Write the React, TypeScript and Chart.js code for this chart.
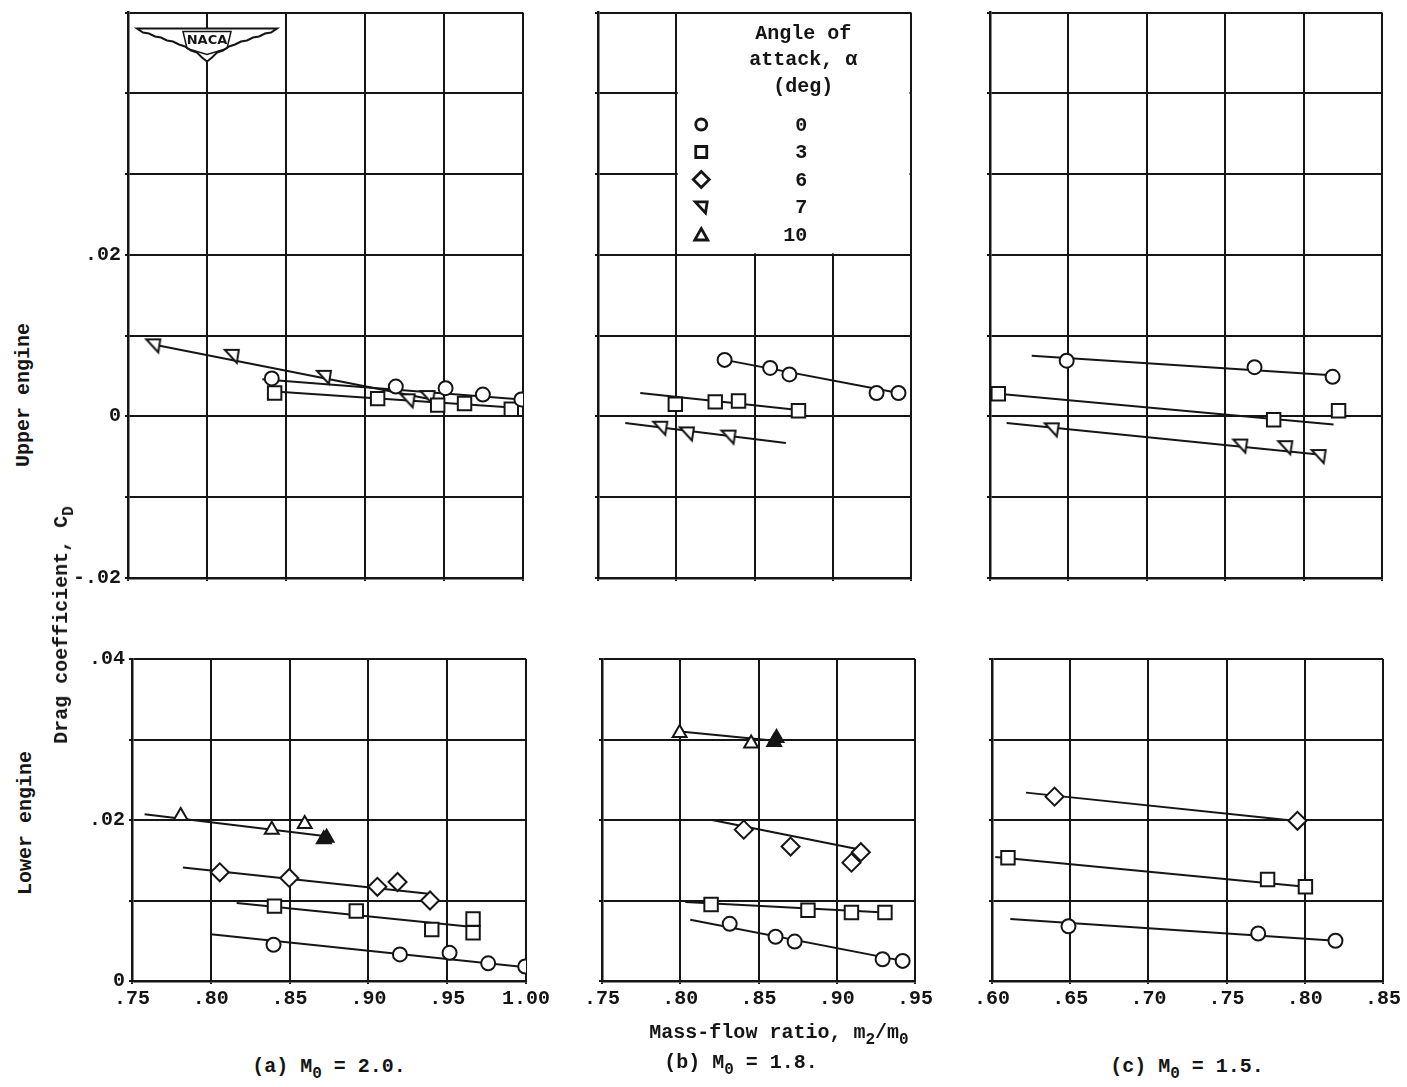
import React, { useEffect, useRef } from 'react';
import { Chart, registerables } from 'chart.js';

Chart.register(...registerables);

const FONT_FAMILY = '"Liberation Mono", "DejaVu Sans Mono", monospace';
const INK = '#151515';

// ---------- legend ----------
const angles = [0, 3, 6, 7, 10];
const legendTitle = ['Angle of', 'attack, \u03b1', '(deg)'];

// ---------- tick labels ----------
const upperYTickValues = [0.02, 0, -0.02];
const upperYTickLabels = ['.02', '0', '-.02'];
const lowerYTickValues = [0.04, 0.02, 0];
const lowerYTickLabels = ['.04', '.02', '0'];
const xTickLabelsA = ['.75', '.80', '.85', '.90', '.95', '1.00'];
const xTickLabelsB = ['.75', '.80', '.85', '.90', '.95'];
const xTickLabelsC = ['.60', '.65', '.70', '.75', '.80', '.85'];

// ---------- (a) M0 = 2.0, upper engine ----------
const aUpX0 = [0.841, 0.9195, 0.951, 0.9746, 0.999];
const aUpY0 = [0.0047, 0.0037, 0.0035, 0.0027, 0.0021];
const aUpX3 = [0.8428, 0.908, 0.946, 0.963, 0.9926];
const aUpY3 = [0.0029, 0.0022, 0.0014, 0.0016, 0.0009];
const aUpX7 = [0.766, 0.8157, 0.874, 0.927, 0.9396];
const aUpY7 = [0.0088, 0.0075, 0.0049, 0.002, 0.0024];
const aUpFairX0 = [0.835, 0.999];
const aUpFairY0 = [0.0046, 0.0021];
const aUpFairX3 = [0.843, 0.993];
const aUpFairY3 = [0.0031, 0.0011];
const aUpFairX7 = [0.766, 0.94];
const aUpFairY7 = [0.0089, 0.0022];

// ---------- (a) M0 = 2.0, lower engine ----------
const aLoX0 = [0.8398, 0.92, 0.9515, 0.976, 0.9995];
const aLoY0 = [0.0045, 0.0033, 0.0035, 0.0022, 0.0018];
const aLoX3 = [0.8404, 0.8923, 0.9402, 0.9664, 0.9664];
const aLoY3 = [0.0093, 0.0087, 0.0064, 0.0077, 0.006];
const aLoX6 = [0.8057, 0.8498, 0.9057, 0.9185, 0.9391];
const aLoY6 = [0.0135, 0.0128, 0.0117, 0.0123, 0.01];
const aLoX10 = [0.7809, 0.8387, 0.8596];
const aLoY10 = [0.0205, 0.0188, 0.0195];
const aLoX10s = [0.8717, 0.8735];
const aLoY10s = [0.0176, 0.0178];
const aLoFairX0 = [0.8, 1.0];
const aLoFairY0 = [0.0058, 0.0017];
const aLoFairX3 = [0.8164, 0.9664];
const aLoFairY3 = [0.0097, 0.0067];
const aLoFairX6 = [0.7823, 0.9398];
const aLoFairY6 = [0.0141, 0.0108];
const aLoFairX10 = [0.758, 0.872];
const aLoFairY10 = [0.0207, 0.018];

// ---------- (b) M0 = 1.8, upper engine ----------
const bUpX0 = [0.8309, 0.86, 0.8723, 0.928, 0.942];
const bUpY0 = [0.007, 0.006, 0.0052, 0.0029, 0.0029];
const bUpX3 = [0.7994, 0.8249, 0.8398, 0.8781];
const bUpY3 = [0.0015, 0.0018, 0.0019, 0.0007];
const bUpX7 = [0.7898, 0.8068, 0.8334];
const bUpY7 = [-0.0014, -0.0021, -0.0025];
const bUpFairX0 = [0.8309, 0.942];
const bUpFairY0 = [0.007, 0.0029];
const bUpFairX3 = [0.777, 0.878];
const bUpFairY3 = [0.0029, 0.0008];
const bUpFairX7 = [0.7674, 0.87];
const bUpFairY7 = [-0.0008, -0.0033];

// ---------- (b) M0 = 1.8, lower engine ----------
const bLoX0 = [0.8316, 0.8609, 0.8731, 0.9293, 0.9421];
const bLoY0 = [0.0071, 0.0055, 0.0049, 0.0027, 0.0025];
const bLoX3 = [0.8197, 0.8816, 0.9094, 0.9308];
const bLoY3 = [0.0095, 0.0088, 0.0085, 0.0085];
const bLoX6 = [0.8406, 0.8705, 0.9154, 0.9094];
const bLoY6 = [0.0188, 0.0167, 0.016, 0.0147];
const bLoX10 = [0.7996, 0.8453];
const bLoY10 = [0.0308, 0.0295];
const bLoX10s = [0.8615, 0.86];
const bLoY10s = [0.0302, 0.0297];
const bLoFairX0 = [0.8064, 0.9421];
const bLoFairY0 = [0.0076, 0.0025];
const bLoFairX3 = [0.8032, 0.9308];
const bLoFairY3 = [0.0098, 0.0085];
const bLoFairX6 = [0.8203, 0.9154];
const bLoFairY6 = [0.02, 0.0163];
const bLoFairX10 = [0.8, 0.862];
const bLoFairY10 = [0.031, 0.0298];

// ---------- (c) M0 = 1.5, upper engine ----------
const cUpX0 = [0.6489, 0.7687, 0.8185];
const cUpY0 = [0.0069, 0.0061, 0.0049];
const cUpX3 = [0.6053, 0.7809, 0.8223];
const cUpY3 = [0.0028, -0.0004, 0.0007];
const cUpX7 = [0.6394, 0.7596, 0.7883, 0.8096];
const cUpY7 = [-0.0016, -0.0036, -0.0038, -0.0049];
const cUpFairX0 = [0.6266, 0.818];
const cUpFairY0 = [0.0075, 0.0051];
const cUpFairX3 = [0.6, 0.8191];
const cUpFairY3 = [0.0029, -0.001];
const cUpFairX7 = [0.6106, 0.8096];
const cUpFairY7 = [-0.0008, -0.0047];

// ---------- (c) M0 = 1.5, lower engine ----------
const cLoX0 = [0.6489, 0.7702, 0.8196];
const cLoY0 = [0.0068, 0.0059, 0.005];
const cLoX3 = [0.6102, 0.7762, 0.8004];
const cLoY3 = [0.0153, 0.0126, 0.0117];
const cLoX6 = [0.64, 0.7953];
const cLoY6 = [0.0229, 0.0199];
const cLoFairX0 = [0.6117, 0.8196];
const cLoFairY0 = [0.0077, 0.005];
const cLoFairX3 = [0.6021, 0.8004];
const cLoFairY3 = [0.0154, 0.0117];
const cLoFairX6 = [0.6217, 0.7979];
const cLoFairY6 = [0.0234, 0.0198];

type Series = { angle: number; x: number[]; y: number[]; solid?: boolean };
type Fair = { x: number[]; y: number[] };
type PanelCfg = {
  id: string;
  left: number;
  top: number;
  right: number;
  bottom: number;
  xMin: number;
  xMax: number;
  yMin: number;
  yMax: number;
  xLabels: string[] | null;
  yTickValues: number[] | null;
  yTickLabels: string[] | null;
  series: Series[];
  fairs: Fair[];
  legend?: boolean;
  logo?: boolean;
};

const panels: PanelCfg[] = [
  {
    id: 'aU', left: 128, right: 523, top: 11, bottom: 578,
    xMin: 0.75, xMax: 1.0, yMin: -0.02, yMax: 0.05,
    xLabels: null, yTickValues: upperYTickValues, yTickLabels: upperYTickLabels,
    series: [
      { angle: 0, x: aUpX0, y: aUpY0 },
      { angle: 3, x: aUpX3, y: aUpY3 },
      { angle: 7, x: aUpX7, y: aUpY7 },
    ],
    fairs: [
      { x: aUpFairX0, y: aUpFairY0 },
      { x: aUpFairX3, y: aUpFairY3 },
      { x: aUpFairX7, y: aUpFairY7 },
    ],
    logo: true,
  },
  {
    id: 'aL', left: 132, right: 526, top: 659, bottom: 981,
    xMin: 0.75, xMax: 1.0, yMin: 0, yMax: 0.04,
    xLabels: xTickLabelsA, yTickValues: lowerYTickValues, yTickLabels: lowerYTickLabels,
    series: [
      { angle: 0, x: aLoX0, y: aLoY0 },
      { angle: 3, x: aLoX3, y: aLoY3 },
      { angle: 6, x: aLoX6, y: aLoY6 },
      { angle: 10, x: aLoX10, y: aLoY10 },
      { angle: 10, x: aLoX10s, y: aLoY10s, solid: true },
    ],
    fairs: [
      { x: aLoFairX0, y: aLoFairY0 },
      { x: aLoFairX3, y: aLoFairY3 },
      { x: aLoFairX6, y: aLoFairY6 },
      { x: aLoFairX10, y: aLoFairY10 },
    ],
  },
  {
    id: 'bU', left: 598, right: 911, top: 11, bottom: 578,
    xMin: 0.75, xMax: 0.95, yMin: -0.02, yMax: 0.05,
    xLabels: null, yTickValues: null, yTickLabels: null,
    series: [
      { angle: 0, x: bUpX0, y: bUpY0 },
      { angle: 3, x: bUpX3, y: bUpY3 },
      { angle: 7, x: bUpX7, y: bUpY7 },
    ],
    fairs: [
      { x: bUpFairX0, y: bUpFairY0 },
      { x: bUpFairX3, y: bUpFairY3 },
      { x: bUpFairX7, y: bUpFairY7 },
    ],
    legend: true,
  },
  {
    id: 'bL', left: 602, right: 915, top: 659, bottom: 981,
    xMin: 0.75, xMax: 0.95, yMin: 0, yMax: 0.04,
    xLabels: xTickLabelsB, yTickValues: null, yTickLabels: null,
    series: [
      { angle: 0, x: bLoX0, y: bLoY0 },
      { angle: 3, x: bLoX3, y: bLoY3 },
      { angle: 6, x: bLoX6, y: bLoY6 },
      { angle: 10, x: bLoX10, y: bLoY10 },
      { angle: 10, x: bLoX10s, y: bLoY10s, solid: true },
    ],
    fairs: [
      { x: bLoFairX0, y: bLoFairY0 },
      { x: bLoFairX3, y: bLoFairY3 },
      { x: bLoFairX6, y: bLoFairY6 },
      { x: bLoFairX10, y: bLoFairY10 },
    ],
  },
  {
    id: 'cU', left: 990, right: 1382, top: 11, bottom: 578,
    xMin: 0.6, xMax: 0.85, yMin: -0.02, yMax: 0.05,
    xLabels: null, yTickValues: null, yTickLabels: null,
    series: [
      { angle: 0, x: cUpX0, y: cUpY0 },
      { angle: 3, x: cUpX3, y: cUpY3 },
      { angle: 7, x: cUpX7, y: cUpY7 },
    ],
    fairs: [
      { x: cUpFairX0, y: cUpFairY0 },
      { x: cUpFairX3, y: cUpFairY3 },
      { x: cUpFairX7, y: cUpFairY7 },
    ],
  },
  {
    id: 'cL', left: 992, right: 1383, top: 659, bottom: 981,
    xMin: 0.6, xMax: 0.85, yMin: 0, yMax: 0.04,
    xLabels: xTickLabelsC, yTickValues: null, yTickLabels: null,
    series: [
      { angle: 0, x: cLoX0, y: cLoY0 },
      { angle: 3, x: cLoX3, y: cLoY3 },
      { angle: 6, x: cLoX6, y: cLoY6 },
    ],
    fairs: [
      { x: cLoFairX0, y: cLoFairY0 },
      { x: cLoFairX3, y: cLoFairY3 },
      { x: cLoFairX6, y: cLoFairY6 },
    ],
  },
];

const POINT_STYLE: Record<number, string> = { 0: 'circle', 3: 'rect', 6: 'rectRot', 10: 'triangle' };
const POINT_RADIUS: Record<number, number> = { 0: 7, 3: 9.5, 6: 9, 7: 8, 10: 8 };

function pathSym7(g: CanvasRenderingContext2D, x: number, y: number, k: number) {
  g.beginPath();
  g.moveTo(x - 7 * k, y - 6 * k);
  g.lineTo(x + 7 * k, y - 6 * k);
  g.lineTo(x + 5 * k, y + 7 * k);
  g.closePath();
}

function makeSym7(): HTMLCanvasElement {
  const c = document.createElement('canvas');
  c.width = 22;
  c.height = 22;
  const g = c.getContext('2d')!;
  g.lineWidth = 2;
  g.strokeStyle = INK;
  g.fillStyle = '#fff';
  pathSym7(g, 11, 11, 1);
  g.fill();
  g.stroke();
  return c;
}

function drawLegendSymbol(g: CanvasRenderingContext2D, angle: number, x: number, y: number) {
  g.save();
  g.lineWidth = 2.8;
  g.strokeStyle = INK;
  g.fillStyle = '#fff';
  g.beginPath();
  if (angle === 0) {
    g.arc(x, y, 5.5, 0, Math.PI * 2);
  } else if (angle === 3) {
    g.rect(x - 5.5, y - 5.5, 11, 11);
  } else if (angle === 6) {
    g.moveTo(x, y - 8);
    g.lineTo(x + 8, y);
    g.lineTo(x, y + 8);
    g.lineTo(x - 8, y);
    g.closePath();
  } else if (angle === 7) {
    pathSym7(g, x, y, 0.85);
  } else {
    g.moveTo(x, y - 6);
    g.lineTo(x + 6.5, y + 5.5);
    g.lineTo(x - 6.5, y + 5.5);
    g.closePath();
  }
  g.fill();
  g.stroke();
  g.restore();
}

const FONT = { family: FONT_FAMILY, size: 20, weight: 'bold' as const };

function Panel({ cfg }: { cfg: PanelCfg }) {
  const ref = useRef<HTMLCanvasElement>(null);
  const padL = cfg.yTickLabels ? 64 : 25;
  const padR = 30;
  const padT = cfg.top < 20 ? 10 : 14;
  const padB = cfg.xLabels ? 45 : 14;
  const w = cfg.right - cfg.left + padL + padR;
  const h = cfg.bottom - cfg.top + padT + padB;

  useEffect(() => {
    const canvas = ref.current;
    if (!canvas) return;
    const sym7 = makeSym7();
    const datasets: any[] = [];
    cfg.series.forEach((s) => {
      datasets.push({
        data: s.x.map((v, i) => ({ x: v, y: s.y[i] })),
        pointStyle: s.angle === 7 ? sym7 : POINT_STYLE[s.angle],
        pointRadius: POINT_RADIUS[s.angle],
        pointBorderWidth: 2,
        pointBorderColor: INK,
        pointBackgroundColor: s.solid ? INK : '#fff',
        showLine: false,
        order: 0,
      });
    });
    cfg.fairs.forEach((f) => {
      datasets.push({
        data: f.x.map((v, i) => ({ x: v, y: f.y[i] })),
        showLine: true,
        borderColor: INK,
        borderWidth: 2,
        pointRadius: 0,
        order: 1,
      });
    });

    const decor = {
      id: 'decor-' + cfg.id,
      beforeDatasetsDraw(chart: any) {
        const g: CanvasRenderingContext2D = chart.ctx;
        const xs = chart.scales.x;
        const ys = chart.scales.y;
        if (cfg.legend) {
          const bx0 = xs.getPixelForValue(0.8);
          const bx1 = xs.getPixelForValue(0.95);
          const by0 = ys.getPixelForValue(0.05);
          const by1 = ys.getPixelForValue(0.02);
          g.save();
          g.fillStyle = '#fff';
          g.fillRect(bx0 + 1.5, by0 + 1.5, bx1 - bx0 - 3, by1 - by0 - 3);
          g.fillStyle = INK;
          g.font = `bold 20px ${FONT_FAMILY}`;
          g.textAlign = 'center';
          g.textBaseline = 'middle';
          legendTitle.forEach((t, i) => {
            g.fillText(t, bx0 + 127, by0 + 21 + i * 26.5);
          });
          g.textAlign = 'right';
          angles.forEach((a, i) => {
            const yy = by0 + 112 + i * 27.5;
            drawLegendSymbol(g, a, bx0 + 25, yy);
            g.fillStyle = INK;
            g.fillText(String(a), bx0 + 131, yy + 1);
          });
          g.restore();
        }
        if (cfg.logo) {
          const cx = xs.getPixelForValue(0.8);
          const ty = chart.chartArea.top + 16;
          const right = [
            [70, 0], [64, 4], [58, 5], [52, 8], [46, 9], [40, 12], [34, 13], [28, 16],
            [22, 18], [16, 22], [10, 24], [5, 29], [0, 33],
          ];
          g.save();
          g.beginPath();
          g.moveTo(cx - 70, ty);
          g.lineTo(cx + 70, ty);
          right.forEach(([dx, dy]) => g.lineTo(cx + dx, ty + dy));
          for (let i = right.length - 2; i >= 0; i--) g.lineTo(cx - right[i][0], ty + right[i][1]);
          g.closePath();
          g.fillStyle = '#fff';
          g.fill();
          g.lineWidth = 2;
          g.strokeStyle = INK;
          g.stroke();
          g.beginPath();
          g.moveTo(cx - 24, ty + 3);
          g.lineTo(cx + 24, ty + 3);
          g.lineTo(cx + 20, ty + 20);
          g.lineTo(cx, ty + 26);
          g.lineTo(cx - 20, ty + 20);
          g.closePath();
          g.lineWidth = 1.5;
          g.stroke();
          g.fillStyle = INK;
          g.font = 'bold 13px "DejaVu Sans", sans-serif';
          g.textAlign = 'center';
          g.textBaseline = 'middle';
          g.fillText('NACA', cx, ty + 12);
          g.restore();
        }
      },
    };

    const chart = new Chart(canvas, {
      type: 'scatter',
      data: { datasets },
      options: {
        responsive: false,
        maintainAspectRatio: false,
        animation: false,
        events: [],
        layout: { padding: { top: padT, right: padR, left: 0, bottom: 0 } },
        plugins: { legend: { display: false }, tooltip: { enabled: false } },
        scales: {
          x: {
            type: 'linear',
            position: 'bottom',
            min: cfg.xMin,
            max: cfg.xMax,
            ticks: {
              stepSize: 0.05,
              display: !!cfg.xLabels,
              autoSkip: false,
              maxRotation: 0,
              padding: 3,
              color: INK,
              font: FONT,
              callback: (_v: any, i: number) => (cfg.xLabels ? cfg.xLabels[i] ?? '' : ''),
            },
            grid: { color: INK, lineWidth: 2, tickLength: 3, drawTicks: true },
            border: { color: INK, width: 2.5 },
            afterFit: (s: any) => {
              s.height = padB;
              s.paddingLeft = 0;
              s.paddingRight = 0;
            },
          },
          y: {
            type: 'linear',
            position: 'left',
            min: cfg.yMin,
            max: cfg.yMax,
            ticks: {
              stepSize: 0.01,
              display: !!cfg.yTickLabels,
              autoSkip: false,
              padding: 4,
              color: INK,
              font: FONT,
              callback: (v: any) => {
                if (!cfg.yTickValues || !cfg.yTickLabels) return '';
                const i = cfg.yTickValues.findIndex((t) => Math.abs(t - Number(v)) < 1e-6);
                return i >= 0 ? cfg.yTickLabels[i] : '';
              },
            },
            grid: { color: INK, lineWidth: 2, tickLength: 3, drawTicks: true },
            border: { color: INK, width: 2.5 },
            afterFit: (s: any) => {
              s.width = padL;
              s.paddingTop = 0;
              s.paddingBottom = 0;
            },
          },
        },
      } as any,
      plugins: [decor],
    });
    return () => chart.destroy();
  }, []);

  return (
    <canvas
      ref={ref}
      width={w}
      height={h}
      style={{ position: 'absolute', left: cfg.left - padL, top: cfg.top - padT, width: w, height: h }}
    />
  );
}

const textBase: React.CSSProperties = {
  position: 'absolute',
  whiteSpace: 'nowrap',
  fontFamily: FONT_FAMILY,
  fontWeight: 'bold',
  fontSize: 20,
  color: INK,
  lineHeight: 1,
};

const subStyle: React.CSSProperties = { fontSize: '0.8em', verticalAlign: '-0.35em', lineHeight: 0 };

function Centered({ x, y, rotate, children }: { x: number; y: number; rotate?: boolean; children: React.ReactNode }) {
  return (
    <div
      style={{
        ...textBase,
        left: x,
        top: y,
        transform: `translate(-50%, -50%)${rotate ? ' rotate(-90deg)' : ''}`,
      }}
    >
      {children}
    </div>
  );
}

export default function App() {
  return (
    <div style={{ position: 'absolute', left: 0, top: 0, width: 1407, height: 1087, background: '#fff', overflow: 'hidden' }}>
      {panels.map((p) => (
        <Panel key={p.id} cfg={p} />
      ))}
      <Centered x={24} y={395} rotate>Upper engine</Centered>
      <Centered x={62} y={625} rotate>
        Drag coefficient, C<sub style={subStyle}>D</sub>
      </Centered>
      <Centered x={26} y={823} rotate>Lower engine</Centered>
      <Centered x={779} y={1033}>
        Mass-flow ratio, m<sub style={subStyle}>2</sub>/m<sub style={subStyle}>0</sub>
      </Centered>
      <Centered x={329} y={1067}>
        (a) M<sub style={subStyle}>0</sub> = 2.0.
      </Centered>
      <Centered x={741} y={1063}>
        (b) M<sub style={subStyle}>0</sub> = 1.8.
      </Centered>
      <Centered x={1187} y={1067}>
        (c) M<sub style={subStyle}>0</sub> = 1.5.
      </Centered>
    </div>
  );
}
